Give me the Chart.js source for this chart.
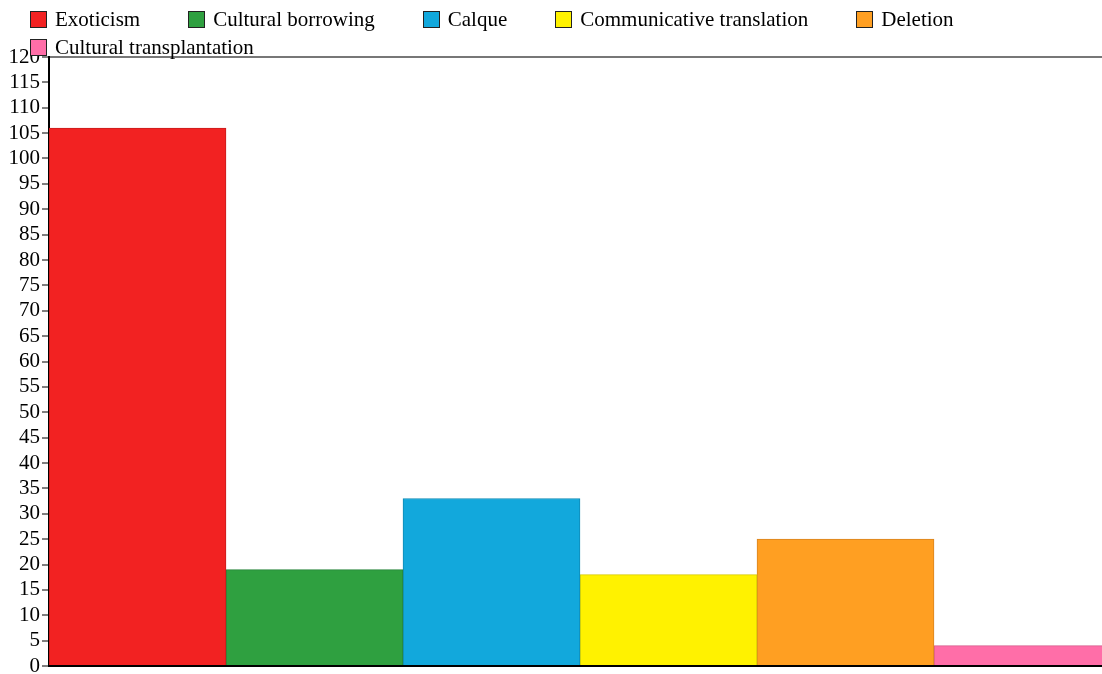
<!DOCTYPE html>
<html>
<head>
<meta charset="utf-8">
<script src="https://cdn.jsdelivr.net/npm/chart.js@4/dist/chart.umd.min.js"></script>
<style>
  html, body { margin: 0; padding: 0; background: #fff; overflow: hidden; }
  #wrap { position: relative; width: 1102px; height: 674px; overflow: hidden; }
  #legend {
    position: absolute; left: 30px; top: 5px; width: 1060px;
    display: flex; flex-wrap: wrap; column-gap: 48px;
    font-family: "Liberation Serif", "Times New Roman", serif; font-size: 21px; color: #000;
  }
  .item { display: flex; align-items: center; height: 28px; }
  .box { width: 15px; height: 15px; border: 1px solid #222; margin-right: 8px; }
</style>
</head>
<body>
<div id="wrap">
  <!-- canvas is a bit wider than the view: the last bar gets cut at the right edge -->
  <canvas id="chart" width="1111" height="674"></canvas>
  <div id="legend"></div>
</div>
<script>
  const categories = [""];
  const seriesNames = ["Exoticism", "Cultural borrowing", "Calque", "Communicative translation", "Deletion", "Cultural transplantation"];
  const seriesValues = [106, 19, 33, 18, 25, 4];
  const fillColors = ["#f22222", "#2fa040", "#12a8dc", "#fff200", "#ff9f22", "#ff6ea8"];
  const lineColors = ["#c81c1c", "#26833a", "#0f8ab5", "#d6cb00", "#d98420", "#d65c8c"];
  const yTicks = { min: 0, max: 120, step: 5 };

  const serif = "'Liberation Serif', 'Times New Roman', serif";

  const datasets = seriesNames.map((name, i) => ({
    label: name,
    data: [seriesValues[i]],
    backgroundColor: fillColors[i],
    borderColor: lineColors[i],
    borderWidth: 1,
    categoryPercentage: 1,
    barPercentage: 1,
  }));

  const chart = new Chart(document.getElementById("chart").getContext("2d"), {
    type: "bar",
    data: { labels: categories, datasets },
    options: {
      responsive: false,
      animation: false,
      layout: { padding: { top: 57, bottom: 8, left: 0, right: 0 } },
      plugins: { legend: { display: false }, tooltip: { enabled: false } },
      scales: {
        x: {
          ticks: { display: false },
          grid: { display: false },
          border: { color: "#000", width: 2 },
          afterFit: (scale) => { scale.height = 0; },
        },
        y: {
          min: yTicks.min,
          max: yTicks.max,
          afterFit: (scale) => {
            scale.width = 49;
            scale.paddingTop = 0;
            scale.paddingBottom = 0;
          },
          ticks: {
            stepSize: yTicks.step,
            autoSkip: false,
            color: "#000",
            padding: 2,
            font: { family: serif, size: 21 },
          },
          grid: {
            color: (ctx) => (ctx.tick && ctx.tick.value === yTicks.max ? "#777" : "rgba(0,0,0,0)"),
            lineWidth: 2,
            tickColor: "#000",
            tickLength: 7,
            tickWidth: 1,
          },
          border: { color: "#000", width: 2 },
        },
      },
    },
  });

  // html legend built from the datasets
  const legendEl = document.getElementById("legend");
  chart.data.datasets.forEach((d) => {
    const item = document.createElement("div");
    item.className = "item";
    const box = document.createElement("span");
    box.className = "box";
    box.style.background = d.backgroundColor;
    const txt = document.createElement("span");
    txt.textContent = d.label;
    item.appendChild(box);
    item.appendChild(txt);
    legendEl.appendChild(item);
  });
</script>
</body>
</html>
